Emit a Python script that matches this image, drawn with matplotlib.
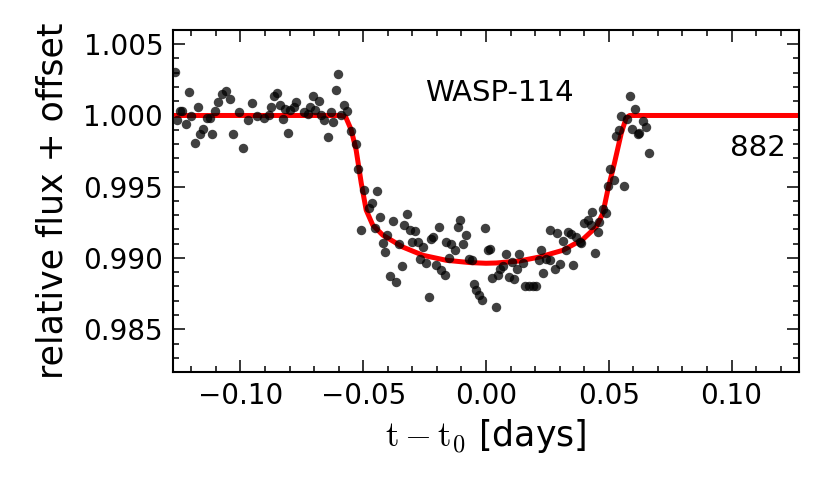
import matplotlib
matplotlib.use("Agg")
import matplotlib.pyplot as plt
from matplotlib.ticker import MultipleLocator

# light curve WASP-114, epoch 882
time = [-0.1265, -0.1237, -0.1248, -0.1257, -0.1221, -0.1211, -0.1201, -0.1187, -0.1174, -0.1164,
        -0.1151, -0.1137, -0.1123, -0.1115, -0.1102, -0.1092, -0.1076, -0.1058, -0.1042, -0.1029,
        -0.1007, -0.0988, -0.0971, -0.0955, -0.0934, -0.0905, -0.0882, -0.0874, -0.0864, -0.0852,
        -0.0841, -0.0828, -0.0817, -0.0807, -0.0798, -0.0784, -0.0773, -0.0743, -0.0724, -0.0715,
        -0.0704, -0.0695, -0.0681, -0.0671, -0.0661, -0.0644, -0.0633, -0.0622, -0.0613, -0.0601,
        -0.0590, -0.0580, -0.0565, -0.0549, -0.0529, -0.0521, -0.0496, -0.0445, -0.0466, -0.0477,
        -0.0433, -0.0508, -0.0454, -0.0404, -0.0420, -0.0411, -0.0393, -0.0377, -0.0355, -0.0333,
        -0.0323, -0.0309, -0.0291, -0.0301, -0.0278, -0.0257, -0.0268, -0.0244, -0.0344, -0.0366,
        -0.0234, -0.0192, -0.0223, -0.0214, -0.0203, -0.0182, -0.0169, -0.0162, -0.0142, -0.0125,
        -0.0149, -0.0115, -0.0104, -0.0092, -0.0081, -0.0071, -0.0059, -0.0050, -0.0040, -0.0029,
        -0.0015, -0.0005, 0.0007, 0.0017, 0.0039, 0.0025, 0.0048, 0.0058, 0.0068, 0.0082,
        0.0093, 0.0104, 0.0113, 0.0127, 0.0136, 0.0150, 0.0160, 0.0174, 0.0191, 0.0204,
        0.0225, 0.0234, 0.0259, 0.0245, 0.0585, 0.0605, 0.0551, 0.0574, 0.0639, 0.0653,
        0.0596, 0.0541, 0.0530, 0.0618, 0.0625, 0.0662, 0.0507, 0.0521, 0.0496, 0.0563,
        0.0476, 0.0487, 0.0431, 0.0415, 0.0401, 0.0462, 0.0426, 0.0455, 0.0288, 0.0333,
        0.0347, 0.0367, 0.0381, 0.0388, 0.0313, 0.0324, 0.0442, 0.0215, 0.0259, 0.0302,
        0.0279, 0.0354]
flux = [1.00303, 1.00033, 1.00028, 0.99970, 0.99942, 1.00165, 0.99993, 0.99806, 1.00063, 0.99871,
        0.99908, 0.99982, 0.99982, 0.99869, 1.00028, 1.00094, 1.00151, 1.00174, 1.00118, 0.99869,
        1.00024, 0.99775, 0.99965, 1.00085, 0.99996, 0.99984, 1.00005, 1.00059, 1.00134, 1.00158,
        1.00075, 0.99975, 1.00047, 0.99876, 1.00035, 1.00059, 1.00094, 1.00024, 1.00010, 1.00059,
        1.00134, 1.00040, 1.00099, 1.00005, 0.99965, 0.99852, 1.00021, 0.99954, 1.00179, 1.00292,
        1.00003, 1.00075, 1.00028, 0.99894, 0.99799, 0.99625, 0.99477, 0.99470, 0.99383, 0.99348,
        0.99289, 0.99195, 0.99207, 0.99160, 0.99106, 0.99045, 0.98873, 0.99261, 0.99096, 0.99235,
        0.99306, 0.99195, 0.99188, 0.99113, 0.99113, 0.99077, 0.98996, 0.98965, 0.98942, 0.98831,
        0.98725, 0.99214, 0.99130, 0.99148, 0.98949, 0.98913, 0.98883, 0.99113, 0.99101, 0.99059,
        0.99003, 0.99218, 0.99265, 0.99101, 0.99160, 0.98996, 0.98984, 0.98815, 0.98773, 0.98737,
        0.98702, 0.99211, 0.99054, 0.99066, 0.98655, 0.98862, 0.98878, 0.98920, 0.98942, 0.99031,
        0.98866, 0.98972, 0.98855, 0.98925, 0.99031, 0.98965, 0.98801, 0.98801, 0.98801, 0.98801,
        0.99059, 0.98894, 0.99195, 0.98996, 1.00134, 1.00045, 0.99993, 0.99975, 0.99958, 0.99918,
        0.99904, 0.99899, 0.99857, 0.99869, 0.99876, 0.99735, 0.99623, 0.99547, 0.99505, 0.99505,
        0.99341, 0.99317, 0.99324, 0.99265, 0.99246, 0.99254, 0.99230, 0.99183, 0.99172, 0.99183,
        0.99167, 0.99148, 0.99113, 0.99106, 0.99120, 0.99054, 0.99035, 0.98989, 0.98984, 0.98961,
        0.98925, 0.98949]

# transit model
model_time = [-0.1275, -0.0590, -0.0572, -0.0549, -0.0529, -0.0508, -0.0488, -0.0461, -0.0420,
              -0.0339, -0.0257, -0.0162, -0.0067, 0.0000, 0.0042, 0.0136, 0.0218, 0.0313,
              0.0394, 0.0449, 0.0476, 0.0496, 0.0523, 0.0551, 0.0571, 0.0585, 0.1275]
model_flux = [1.00000, 1.00000, 0.99991, 0.99899, 0.99758, 0.99524, 0.99336, 0.99230, 0.99160,
              0.99077, 0.99019, 0.98984, 0.98968, 0.98963, 0.98965, 0.98979, 0.99007, 0.99054,
              0.99130, 0.99218, 0.99313, 0.99477, 0.99665, 0.99876, 0.99984, 1.00000, 1.00000]

plt.rcParams['mathtext.fontset'] = 'cm'

fig = plt.figure(figsize=(8.3, 4.98), dpi=100)
ax = fig.add_axes([0.2084, 0.253, 0.7543, 0.6868])

ax.plot(model_time, model_flux, color='red', lw=3.6, zorder=2)
ax.plot(time, flux, 'o', color='k', alpha=0.75, ms=6.8, mew=0, zorder=3)

ax.set_xlim(-0.1275, 0.1275)
ax.set_ylim(0.982, 1.006)
ax.xaxis.set_major_locator(MultipleLocator(0.05))
ax.xaxis.set_minor_locator(MultipleLocator(0.01))
ax.yaxis.set_major_locator(MultipleLocator(0.005))
ax.yaxis.set_minor_locator(MultipleLocator(0.001))
ax.tick_params(which='both', direction='in', top=True, right=True, labelsize=20, width=1.1)
ax.tick_params(which='major', length=8.5, pad=7)
ax.tick_params(which='minor', length=4.3)
for s in ax.spines.values():
    s.set_linewidth(1.5)

ax.set_xlabel(r'$\mathrm{t-t_0}$ [days]', fontsize=25, labelpad=5)
ax.set_ylabel('relative flux + offset', fontsize=25, labelpad=10)

ax.text(0.522, 0.816, 'WASP-114', transform=ax.transAxes, fontsize=21, ha='center', va='center')
ax.text(0.979, 0.655, '882', transform=ax.transAxes, fontsize=21, ha='right', va='center')

plt.savefig("out.png", dpi=100)
